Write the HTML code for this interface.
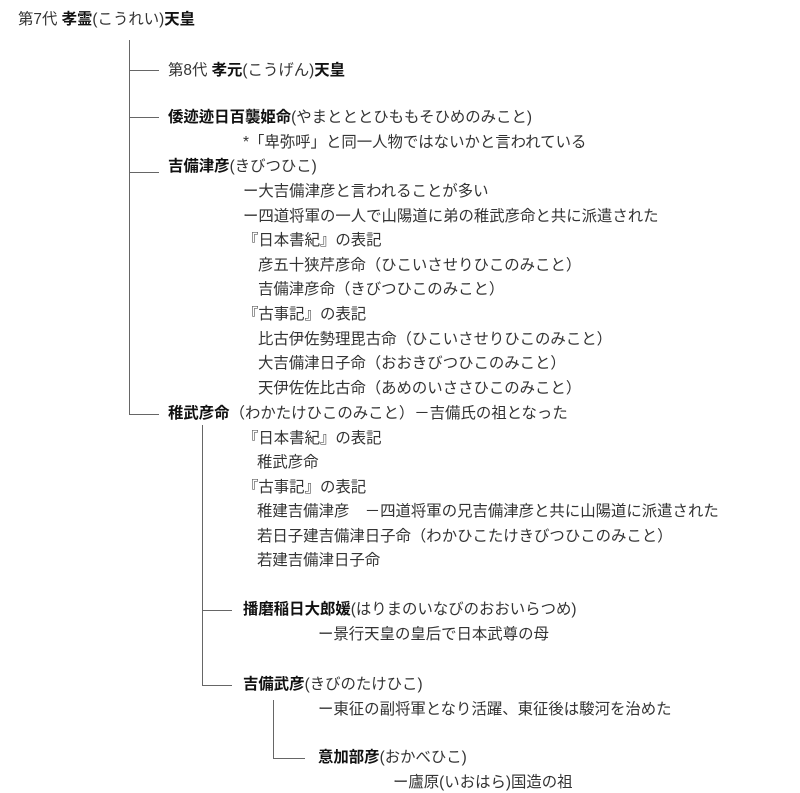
<!DOCTYPE html>
<html><head><meta charset="utf-8"><style>
html,body{margin:0;padding:0;background:#fff;}
body{width:800px;height:793px;position:relative;overflow:hidden;font-family:"Liberation Sans","Noto Sans CJK JP",sans-serif;font-size:15.4px;color:#333;}
.t{position:absolute;white-space:nowrap;line-height:20px;}
b{font-weight:bold;color:#111;}
.l{position:absolute;background:#666;}
</style></head><body>
<div class="t" style="left:18px;top:10px">第7代 <b>孝霊</b>(こうれい)<b>天皇</b></div>
<div class="l" style="left:129px;top:40px;width:1px;height:375px"></div>
<div class="l" style="left:129px;top:70px;width:30px;height:1px"></div>
<div class="l" style="left:129px;top:117px;width:30px;height:1px"></div>
<div class="l" style="left:129px;top:172px;width:30px;height:1px"></div>
<div class="l" style="left:129px;top:414px;width:30px;height:1px"></div>
<div class="t" style="left:168px;top:61px">第8代 <b>孝元</b>(こうげん)<b>天皇</b></div>
<div class="t" style="left:168px;top:108px"><b>倭迹迹日百襲姫命</b>(やまとととひももそひめのみこと)</div>
<div class="t" style="left:243px;top:133px">*「卑弥呼」と同一人物ではないかと言われている</div>
<div class="t" style="left:168px;top:157px"><b>吉備津彦</b>(きびつひこ)</div>
<div class="t" style="left:243px;top:182px">ー大吉備津彦と言われることが多い</div>
<div class="t" style="left:243px;top:207px">ー四道将軍の一人で山陽道に弟の稚武彦命と共に派遣された</div>
<div class="t" style="left:243px;top:231px">『日本書紀』の表記</div>
<div class="t" style="left:258px;top:256px">彦五十狭芹彦命（ひこいさせりひこのみこと）</div>
<div class="t" style="left:258px;top:280px">吉備津彦命（きびつひこのみこと）</div>
<div class="t" style="left:243px;top:305px">『古事記』の表記</div>
<div class="t" style="left:258px;top:330px">比古伊佐勢理毘古命（ひこいさせりひこのみこと）</div>
<div class="t" style="left:258px;top:354px">大吉備津日子命（おおきびつひこのみこと）</div>
<div class="t" style="left:258px;top:379px">天伊佐佐比古命（あめのいささひこのみこと）</div>
<div class="t" style="left:168px;top:404px"><b>稚武彦命</b>（わかたけひこのみこと）－吉備氏の祖となった</div>
<div class="l" style="left:202px;top:425px;width:1px;height:261px"></div>
<div class="l" style="left:202px;top:610px;width:30px;height:1px"></div>
<div class="l" style="left:202px;top:685px;width:30px;height:1px"></div>
<div class="t" style="left:243px;top:429px">『日本書紀』の表記</div>
<div class="t" style="left:257px;top:453px">稚武彦命</div>
<div class="t" style="left:243px;top:478px">『古事記』の表記</div>
<div class="t" style="left:257px;top:502px">稚建吉備津彦　－四道将軍の兄吉備津彦と共に山陽道に派遣された</div>
<div class="t" style="left:257px;top:527px">若日子建吉備津日子命（わかひこたけきびつひこのみこと）</div>
<div class="t" style="left:257px;top:551px">若建吉備津日子命</div>
<div class="t" style="left:243px;top:600px"><b>播磨稲日大郎媛</b>(はりまのいなびのおおいらつめ)</div>
<div class="t" style="left:318px;top:625px">ー景行天皇の皇后で日本武尊の母</div>
<div class="t" style="left:243px;top:675px"><b>吉備武彦</b>(きびのたけひこ)</div>
<div class="t" style="left:318px;top:700px">ー東征の副将軍となり活躍、東征後は駿河を治めた</div>
<div class="l" style="left:273px;top:700px;width:1px;height:59px"></div>
<div class="l" style="left:273px;top:758px;width:32px;height:1px"></div>
<div class="t" style="left:318px;top:748px"><b>意加部彦</b>(おかべひこ)</div>
<div class="t" style="left:393px;top:773px">ー廬原(いおはら)国造の祖</div>
</body></html>
